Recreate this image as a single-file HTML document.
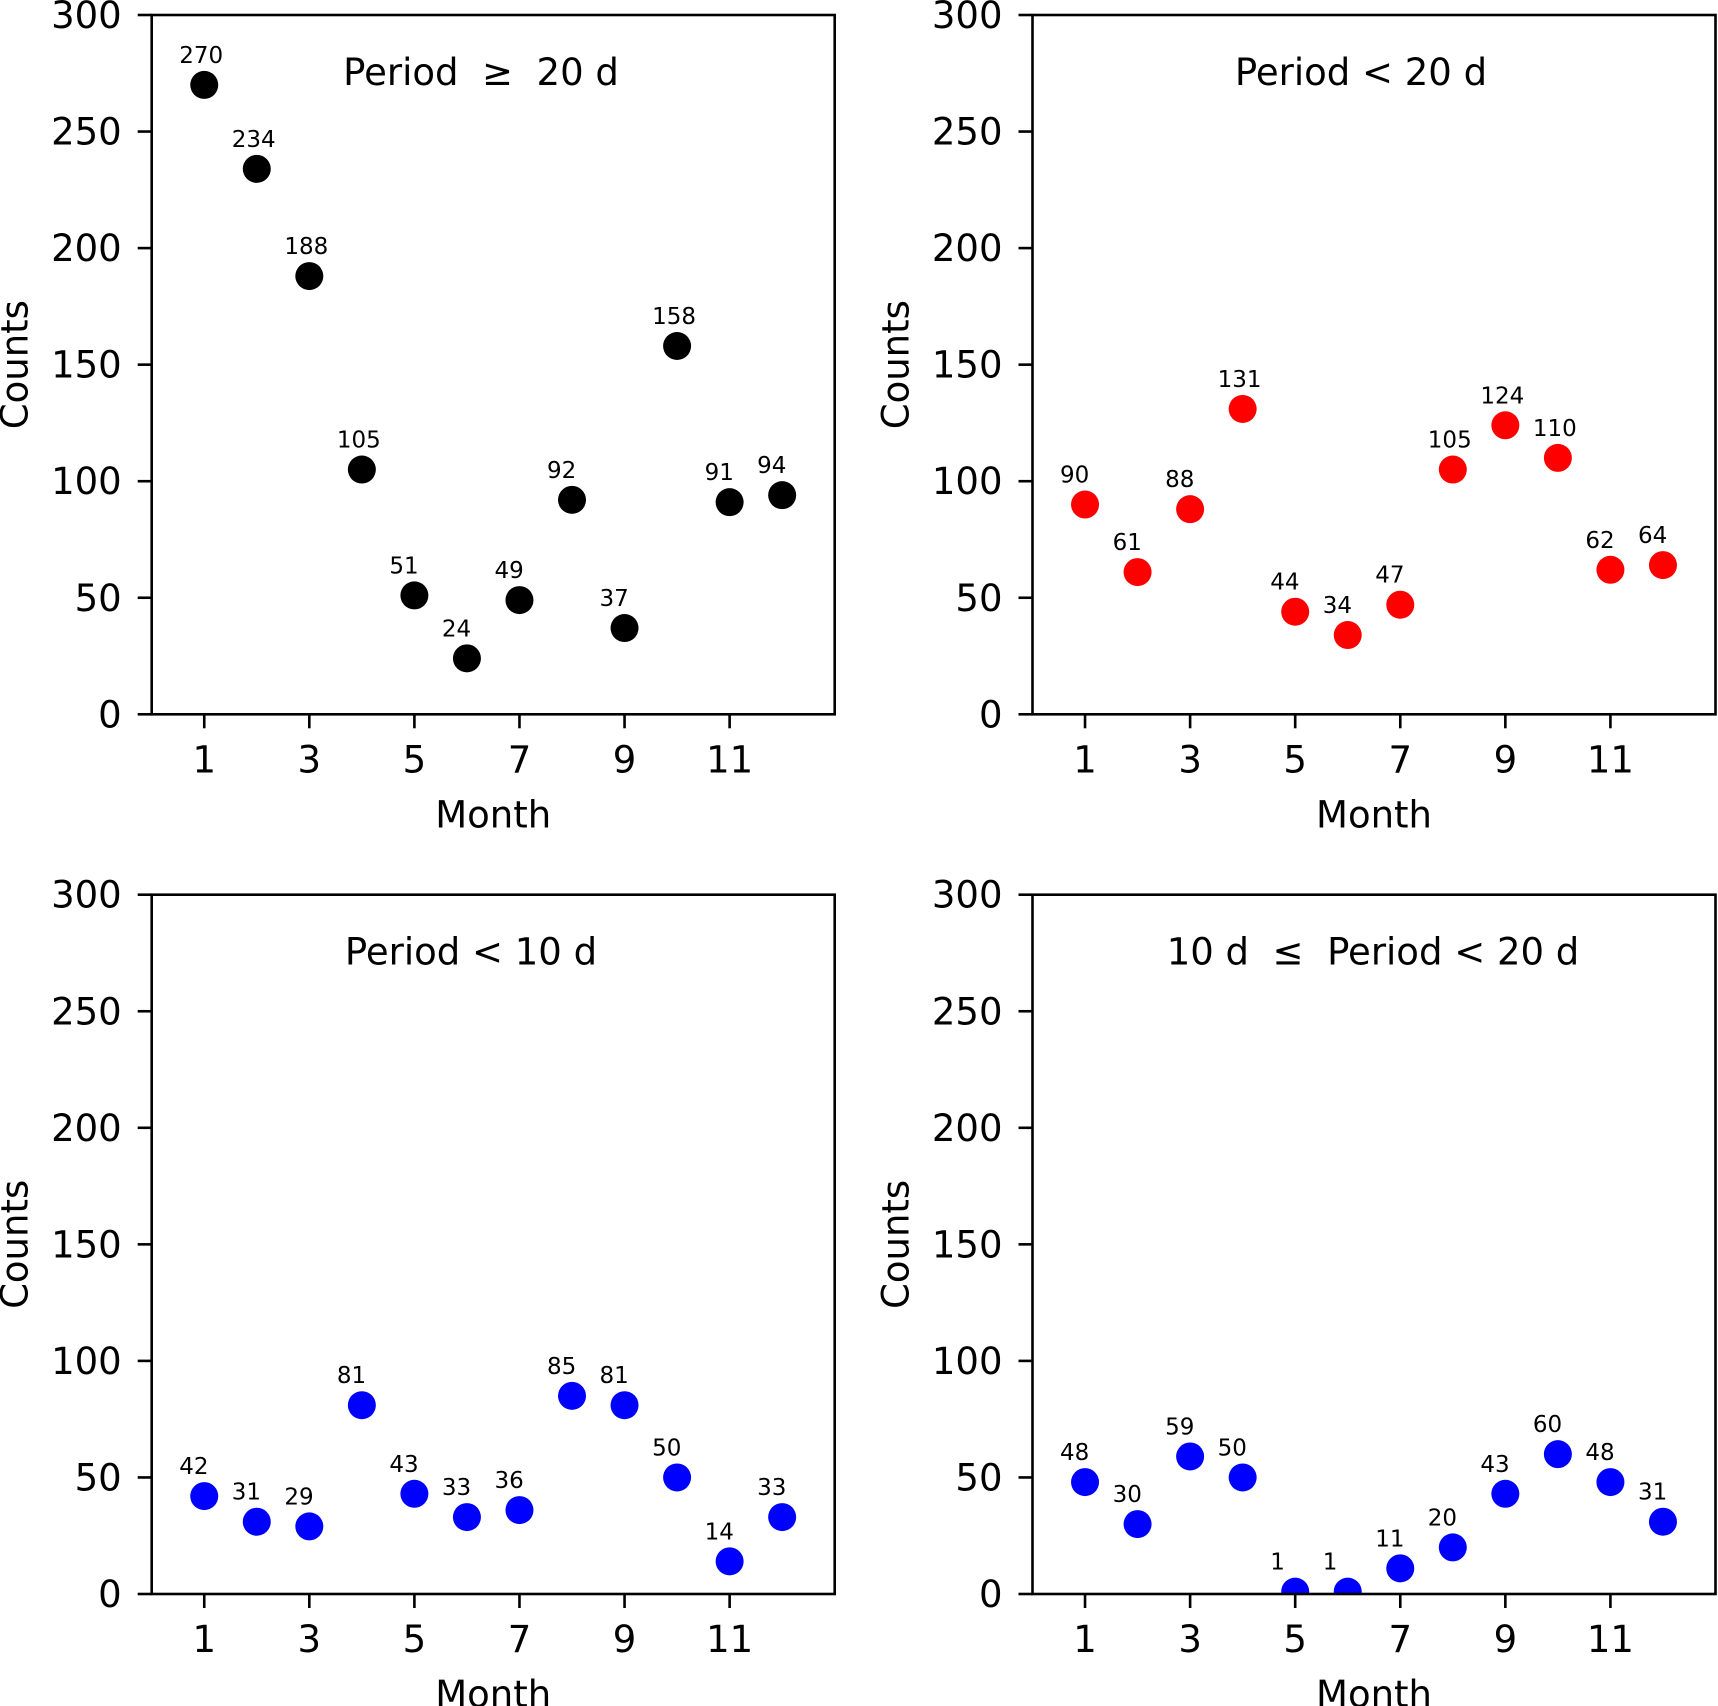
<!DOCTYPE html>
<html><head><meta charset="utf-8"><style>
html,body{margin:0;padding:0;background:#fff;}
svg{display:block;font-family:"DejaVu Sans","Liberation Sans",sans-serif;}
</style></head><body>
<svg id="fig" width="1718" height="1706" viewBox="0 0 1718 1706" xmlns="http://www.w3.org/2000/svg">
<rect width="1718" height="1706" fill="#fff"/>
</svg>
<script>
const months = [1,2,3,4,5,6,7,8,9,10,11,12];
const xTicks = [1,3,5,7,9,11];
const yTicks = [0,50,100,150,200,250,300];
const countsGe20 = [270,234,188,105,51,24,49,92,37,158,91,94];
const countsLt20 = [90,61,88,131,44,34,47,105,124,110,62,64];
const countsLt10 = [42,31,29,81,43,33,36,85,81,50,14,33];
const counts10to20 = [48,30,59,50,1,1,11,20,43,60,48,31];
const titles = ["Period  \u2265  20 d","Period < 20 d","Period < 10 d","10 d  \u2264  Period < 20 d"];

const NS="http://www.w3.org/2000/svg";
const svg=document.getElementById('fig');
const W=683,H=699.3;
const panels=[
 {L:151.7,T:15,data:countsGe20,color:"#000000",title:titles[0],tx:481,name:"panel-period-ge-20"},
 {L:1032.5,T:15,data:countsLt20,color:"#ff0000",title:titles[1],tx:1361,name:"panel-period-lt-20"},
 {L:151.7,T:894.7,data:countsLt10,color:"#0000ff",title:titles[2],tx:471,name:"panel-period-lt-10"},
 {L:1032.5,T:894.7,data:counts10to20,color:"#0000ff",title:titles[3],tx:1373,name:"panel-period-10-to-20"}
];
function mk(tag,attrs,parent){const e=document.createElementNS(NS,tag);for(const k in attrs)e.setAttribute(k,attrs[k]);(parent||svg).appendChild(e);return e;}
panels.forEach((p,pi)=>{
 const g=mk('g',{});
 
 
 const xs=v=>p.L+v/13*W;
 const ys=v=>p.T+H-v/300*H;
 const clip=mk('clipPath',{id:'c'+pi},g);
 mk('rect',{x:p.L,y:p.T,width:W,height:H},clip);
 // dots
 const dg=mk('g',{'clip-path':'url(#c'+pi+')'},g);
 p.data.forEach((v,i)=>{
  const c=mk('circle',{cx:xs(months[i]),cy:ys(v),r:14,fill:p.color},dg);
  
  
 });
 p.data.forEach((v,i)=>{
  const t=mk('text',{x:xs(months[i])-25,y:ys(v)-22,'font-size':23,fill:'#000'},g);
  t.textContent=String(v);
  
  
 });
 // frame
 const fr=mk('rect',{x:p.L,y:p.T,width:W,height:H,fill:'none',stroke:'#000','stroke-width':2.6},g);
 
 
 // y ticks
 yTicks.forEach(v=>{
  mk('line',{x1:p.L-14,x2:p.L,y1:ys(v),y2:ys(v),stroke:'#000','stroke-width':2.6},g);
  const t=mk('text',{x:p.L-30,y:ys(v)+13,'font-size':37,'text-anchor':'end'},g);
  t.textContent=v;
  
  
 });
 xTicks.forEach(v=>{
  mk('line',{x1:xs(v),x2:xs(v),y1:p.T+H,y2:p.T+H+14,stroke:'#000','stroke-width':2.6},g);
  const t=mk('text',{x:xs(v),y:p.T+H+58,'font-size':37,'text-anchor':'middle'},g);
  t.textContent=v;
  
  
 });
 const xl=mk('text',{x:p.L+W/2,y:p.T+H+113,'font-size':37,'text-anchor':'middle'},g);
 xl.textContent='Month';
 
 
 const cy=p.T+H/2, cx=p.L-124;
 const yl=mk('text',{x:cx,y:cy,'font-size':37,'text-anchor':'middle',transform:'rotate(-90 '+cx+' '+cy+')'},g);
 yl.textContent='Counts';
 
 
 const tt=mk('text',{x:p.tx,y:p.T+70,'font-size':37,'text-anchor':'middle','xml:space':'preserve'},g);
 tt.style.whiteSpace='pre';
 tt.textContent=p.title;
 
 
});
</script>
</body></html>
